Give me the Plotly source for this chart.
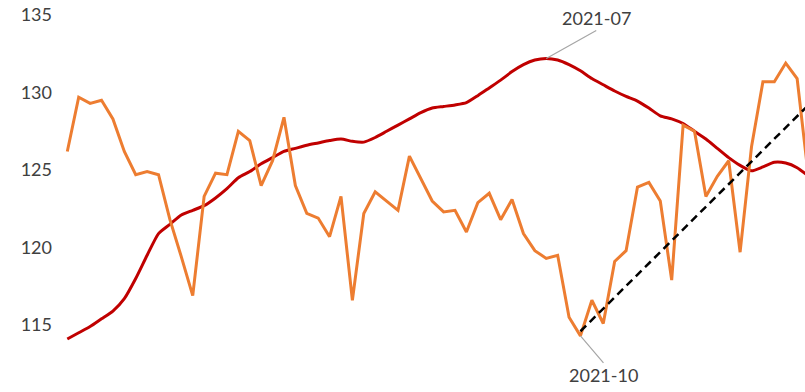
import pandas as pd
import plotly.graph_objects as go

# Monthly categories 2018-01 .. 2023-06
months = [d.strftime("%Y-%m") for d in pd.date_range("2018-01-01", "2023-06-01", freq="MS")]

orange_vals = [126.2, 129.7, 129.3, 129.5, 128.3, 126.2, 124.7, 124.9, 124.7, 121.8,
               119.4, 116.9, 123.3, 124.8, 124.7, 127.5, 126.9, 124.0, 125.6, 128.4,
               124.0, 122.2, 121.9, 120.7, 123.3, 116.6, 122.2, 123.6, 123.0, 122.4,
               125.9, 124.4, 123.0, 122.3, 122.4, 121.0, 122.9, 123.5, 121.8, 123.1,
               120.9, 119.8, 119.3, 119.5, 115.5, 114.3, 116.6, 115.1, 119.1, 119.8,
               123.9, 124.2, 123.0, 117.9, 127.9, 127.5, 123.3, 124.6, 125.6, 119.7,
               126.5, 130.7, 130.7, 131.9, 130.9, 124.5]

red_vals = [114.1, 114.5, 114.9, 115.4, 115.9, 116.7, 118.0, 119.5, 120.9, 121.5,
            122.1, 122.4, 122.7, 123.2, 123.8, 124.5, 124.9, 125.4, 125.8, 126.2,
            126.4, 126.6, 126.75, 126.9, 127.0, 126.85, 126.8, 127.1, 127.5, 127.9,
            128.3, 128.7, 129.0, 129.1, 129.2, 129.35, 129.8, 130.3, 130.8, 131.35,
            131.8, 132.1, 132.2, 132.1, 131.8, 131.4, 130.9, 130.5, 130.1, 129.75,
            129.45, 129.0, 128.5, 128.3, 128.0, 127.5, 127.0, 126.4, 125.8, 125.3,
            124.95, 125.2, 125.5, 125.45, 125.15, 124.6]

trend_x = ["2021-10", "2023-06"]
trend_y = [114.6, 129.2]

y_ticks = [115, 120, 125, 130, 135]

peak_label = "2021-07"
trough_label = "2021-10"

fig = go.Figure()
fig.add_trace(go.Scatter(x=months, y=red_vals, mode="lines",
                         line=dict(color="#C00000", width=3, shape="spline", smoothing=0.6),
                         name="red"))
fig.add_trace(go.Scatter(x=months, y=orange_vals, mode="lines",
                         line=dict(color="#ED7D31", width=3), name="orange"))
fig.add_trace(go.Scatter(x=trend_x, y=trend_y, mode="lines",
                         line=dict(color="#000000", width=2.5, dash="8px,5px"), name="trend"))

text_font = dict(family="Lato", size=18, color="#404040")

fig.add_annotation(x=peak_label, y=red_vals[months.index(peak_label)], text=peak_label,
                   showarrow=True, arrowhead=0, arrowwidth=1.2, arrowcolor="#A6A6A6",
                   ax=50, ay=-28, xanchor="center", yanchor="bottom", font=text_font,
                   borderpad=0)
fig.add_annotation(x=trough_label, y=orange_vals[months.index(trough_label)], text=trough_label,
                   showarrow=True, arrowhead=0, arrowwidth=1.2, arrowcolor="#A6A6A6",
                   ax=23, ay=27, xanchor="center", yanchor="top", font=text_font,
                   borderpad=0)

fig.update_layout(
    width=805, height=392,
    margin=dict(l=53, r=0, t=0, b=0, autoexpand=False),
    paper_bgcolor="white", plot_bgcolor="white",
    showlegend=False,
    font=text_font,
)
fig.update_xaxes(type="category", range=[-1.254, 64.69], showticklabels=False,
                 showgrid=False, zeroline=False, showline=False, ticks="", automargin=False)
fig.update_yaxes(range=[110.68, 135.97], tickvals=y_ticks, showgrid=False,
                 zeroline=False, showline=False, ticks="", tickfont=text_font,
                 automargin=False)

fig.write_html("out.html", config={"displayModeBar": False},
               post_script="document.body.style.margin='0';document.body.style.overflow='hidden';")
